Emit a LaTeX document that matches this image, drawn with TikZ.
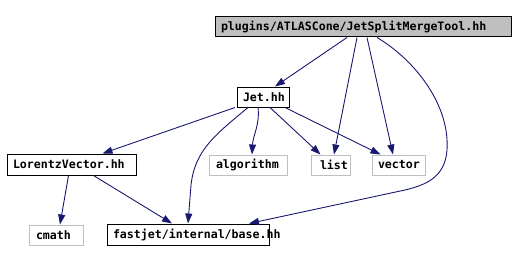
\documentclass[tikz,border=0pt]{standalone}
\usepackage{fontspec}
\setmonofont{DejaVu Sans Mono}
\usetikzlibrary{arrows.meta,calc}
\definecolor{edgeblue}{HTML}{191970}
\definecolor{lightgrey}{HTML}{BFBFBF}
\newcommand\myboxtext[3]{\makebox[#1][l]{\hspace*{#2}#3}}
\begin{document}
\begin{tikzpicture}[x=1pt,y=-1pt,
  box/.style={draw=black, line width=1pt, rectangle, inner sep=0pt,
    font=\ttfamily\bfseries\fontsize{11.6}{12}\selectfont, minimum height=20pt},
  sysbox/.style={box, draw=lightgrey},
  dep/.style={draw=edgeblue, line width=0.9pt, -{Triangle[length=10pt,width=7pt]}}
]
\useasboundingbox (0,0) rectangle (516,262);
\node[box, fill=lightgrey] (top) at (363,27) {\myboxtext{296pt}{6pt}{plugins/ATLASCone/JetSplitMergeTool.hh}};
\node[box] (jet) at (263,97) {\myboxtext{52pt}{6pt}{Jet.hh}};
\node[box, minimum height=21pt] (lv) at (71.5,164.5) {\myboxtext{129pt}{6pt}{LorentzVector.hh}};
\node[sysbox] (alg) at (248,165) {\myboxtext{78pt}{7pt}{algorithm}};
\node[sysbox] (list) at (330.5,165) {\myboxtext{39pt}{9pt}{list}};
\node[sysbox] (vec) at (398.5,165) {\myboxtext{53pt}{6pt}{vector}};
\node[sysbox] (cmath) at (56,235) {\myboxtext{54pt}{7pt}{cmath}};
\node[box, minimum height=21pt] (base) at (188,234.5) {\myboxtext{162pt}{6pt}{fastjet/internal/base.hh}};

\draw[dep] ([xshift=-16pt]top.south) -- ([xshift=12pt]jet.north);
\draw[dep] ([xshift=-6pt]top.south) -- ([xshift=3.5pt]list.north);
\draw[dep] ([xshift=4pt]top.south) -- ([xshift=-5.5pt]vec.north);
\draw[dep] ([xshift=14pt]top.south) .. controls (415,60) and (450,105) .. (447,150)
  .. controls (445,178) and (425,185) .. (405,190) -- ([xshift=61pt]base.north);
\draw[dep] ([xshift=-28pt]jet.south) -- ([xshift=31pt]lv.north);
\draw[dep] ([xshift=-15pt]jet.south) .. controls (215,135) and (195,150) .. (191,185) -- (base.north);
\draw[dep] ([xshift=-5pt]jet.south) .. controls (260,125) and (253,135) .. ([xshift=4pt]alg.north);
\draw[dep] ([xshift=7pt]jet.south) -- ([xshift=-10pt]list.north);
\draw[dep] ([xshift=22pt]jet.south) -- ([xshift=-18pt]vec.north);
\draw[dep] ([xshift=-3pt]lv.south) -- ([xshift=4pt]cmath.north);
\draw[dep] ([xshift=22pt]lv.south) -- ([xshift=-16pt]base.north);
\end{tikzpicture}
\end{document}
